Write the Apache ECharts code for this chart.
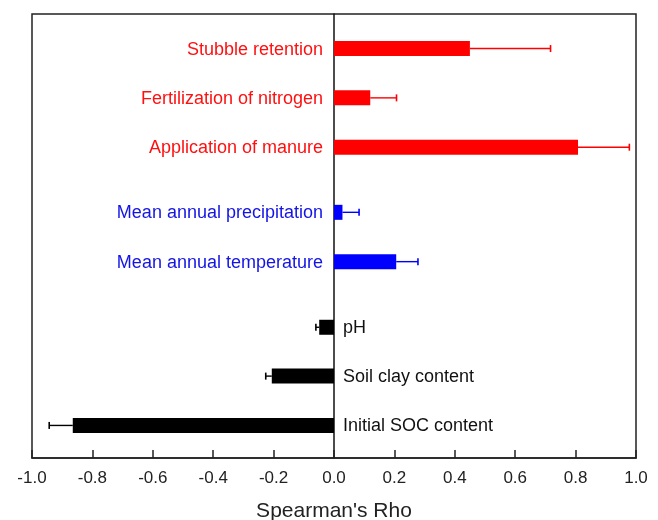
<!DOCTYPE html>
<html>
<head>
<meta charset="utf-8">
<script src="https://cdn.jsdelivr.net/npm/echarts@6/dist/echarts.min.js"></script>
<style>html,body{margin:0;padding:0;background:#fff}#c{width:658px;height:520px}</style>
</head>
<body>
<div id="c"></div>
<script>
var categories = ['Stubble retention','Fertilization of nitrogen','Application of manure','Mean annual precipitation','Mean annual temperature','pH','Soil clay content','Initial SOC content'];
var groups = ['management','management','management','climate','climate','soil','soil','soil'];
var rho = [0.45, 0.12, 0.808, 0.028, 0.206, -0.049, -0.206, -0.865];
var errors = [0.267, 0.087, 0.17, 0.055, 0.072, 0.011, 0.02, 0.078];
var rowPos = [0.7, 1.7, 2.7, 4.02, 5.02, 6.35, 7.34, 8.34];
var xTicks = [-1.0,-0.8,-0.6,-0.4,-0.2,0.0,0.2,0.4,0.6,0.8,1.0];

var groupColor = {management:'#ff0000', climate:'#0000ff', soil:'#000000'};
var textColor = {management:'#ff1010', climate:'#1414e6', soil:'#111111'};

var chart = echarts.init(document.getElementById('c'), null, {renderer:'canvas'});
var data = categories.map(function(c,i){ return [rho[i], rowPos[i], errors[i], i]; });

chart.setOption({
  animation:false,
  grid:{left:32, right:22, top:14, bottom:62, show:true, borderColor:'#222', borderWidth:1.5, backgroundColor:'transparent', containLabel:false, outerBoundsMode:'none'},
  xAxis:{type:'value', min:-1, max:1, interval:0.2,
    axisLine:{show:true, onZero:false, lineStyle:{color:'#222', width:1.5}},
    axisTick:{show:true, inside:true, length:8, lineStyle:{color:'#222', width:1.5}},
    splitLine:{show:false},
    axisLabel:{fontFamily:'Arial, Liberation Sans', fontSize:17, color:'#222', margin:12,
      formatter:function(v){ return (Math.abs(v)<1e-9?0:v).toFixed(1); }},
    name:"Spearman's Rho", nameLocation:'middle', nameGap:43,
    nameTextStyle:{fontFamily:'Arial, Liberation Sans', fontSize:21, color:'#222'}
  },
  yAxis:{type:'value', min:0, max:9, inverse:true,
    axisLine:{show:true, onZero:true, lineStyle:{color:'#111', width:1.5}},
    axisTick:{show:false}, axisLabel:{show:false}, splitLine:{show:false}},
  series:[{
    type:'custom',
    data:data,
    renderItem:function(params, api){
      var v = api.value(0), y = api.value(1), e = api.value(2), idx = api.value(3);
      var g = groups[idx];
      var p0 = api.coord([0, y]);
      var p1 = api.coord([v, y]);
      var pe = api.coord([v + (v>=0?e:-e), y]);
      var h = 15, cap = 7;
      var col = groupColor[g];
      var x0 = Math.min(p0[0], p1[0]), w = Math.abs(p1[0]-p0[0]);
      var children = [
        {type:'line', shape:{x1:p1[0], y1:p0[1], x2:pe[0], y2:p0[1]}, style:{stroke:col, lineWidth:1.4}},
        {type:'line', shape:{x1:pe[0], y1:p0[1]-cap/2, x2:pe[0], y2:p0[1]+cap/2}, style:{stroke:col, lineWidth:1.6}},
        {type:'rect', shape:{x:x0, y:p0[1]-h/2, width:w, height:h}, style:{fill:col}},
        {type:'text', style:{
          text:categories[idx], x: v>=0 ? p0[0]-11 : p0[0]+9, y:p0[1]+1,
          textAlign: v>=0 ? 'right' : 'left', textVerticalAlign:'middle',
          fill:textColor[g], font:'18px Arial, "Liberation Sans", sans-serif'}}
      ];
      return {type:'group', children:children};
    }
  }]
});
</script>
</body>
</html>
